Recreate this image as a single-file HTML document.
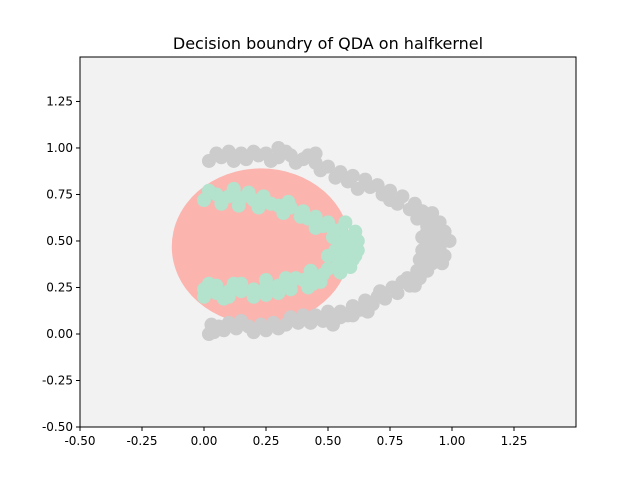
<!DOCTYPE html>
<html><head><meta charset="utf-8"><style>
body{margin:0;background:#fff;font-family:"Liberation Sans","DejaVu Sans",sans-serif}
</style></head><body>
<svg id="c" width="640" height="480" xmlns="http://www.w3.org/2000/svg">
<text x="328" y="49" text-anchor="middle" font-size="16" fill="#000" font-family="DejaVu Sans, sans-serif">Decision boundry of QDA on halfkernel</text>
<rect x="80" y="57" width="496" height="370" fill="#f2f2f2"/>
<g id="marks"></g>
<rect x="80" y="57" width="496" height="370" fill="none" stroke="#000" stroke-width="1"/>
<g id="axes" font-family="DejaVu Sans, sans-serif" font-size="12"></g>
</svg>
<script>
const xTicks=[-0.5,-0.25,0,0.25,0.5,0.75,1.0,1.25];
const yTicks=[-0.5,-0.25,0,0.25,0.5,0.75,1.0,1.25];
const regionEllipse=[0.23,0.47,0.36,0.42]; // cx, cy, rx, ry (data units)
const greyPts=[[0.02,0.93],[0.05,0.97],[0.1,0.98],[0.15,0.97],[0.2,0.98],[0.25,0.97],[0.3,0.95],[0.35,0.96],[0.4,0.94],[0.45,0.92],[0.5,0.9],[0.55,0.87],[0.6,0.85],[0.65,0.83],[0.7,0.8],[0.75,0.77],[0.8,0.74],[0.85,0.7],[0.88,0.66],[0.9,0.62],[0.92,0.58],[0.93,0.54],[0.94,0.5],[0.95,0.46],[0.94,0.42],[0.92,0.38],[0.9,0.34],[0.87,0.3],[0.83,0.26],[0.78,0.22],[0.73,0.19],[0.68,0.16],[0.63,0.13],[0.58,0.1],[0.53,0.08],[0.48,0.07],[0.43,0.06],[0.38,0.06],[0.33,0.05],[0.28,0.06],[0.23,0.05],[0.18,0.04],[0.13,0.03],[0.08,0.02],[0.04,0.01],[0.03,0.05],[0.12,0.93],[0.3,1.0],[0.58,0.82],[0.9,0.55],[0.99,0.5],[0.88,0.45],[0.87,0.4],[0.9,0.48],[0.5,0.12],[0.2,0.01],[0.1,0.06],[0.62,0.78],[0.97,0.42],[0.95,0.6],[0.88,0.52],[0.7,0.2],[0.4,0.1],[0.25,0.02],[0.22,0.96],[0.45,0.97],[0.75,0.72],[0.8,0.28],[0.92,0.65],[0.6,0.1],[0.55,0.12],
[0.07,0.95],[0.17,0.94],[0.27,0.93],[0.37,0.92],[0.47,0.88],[0.53,0.84],[0.67,0.79],[0.72,0.75],[0.78,0.7],[0.83,0.67],[0.86,0.62],[0.9,0.58],[0.92,0.52],[0.91,0.43],[0.89,0.38],[0.86,0.34],[0.82,0.3],[0.76,0.25],[0.71,0.23],[0.65,0.18],[0.6,0.15],[0.55,0.09],[0.45,0.1],[0.35,0.09],[0.3,0.03],[0.15,0.07],[0.06,0.04],[0.02,0.0],[0.33,0.98],[0.42,0.96],[0.97,0.55],[0.96,0.38],[0.85,0.26],[0.66,0.12],[0.52,0.05]];
const greenPts=[[0.0,0.72],[0.05,0.75],[0.1,0.74],[0.15,0.73],[0.2,0.72],[0.25,0.71],[0.3,0.69],[0.35,0.68],[0.4,0.66],[0.45,0.63],[0.5,0.6],[0.55,0.56],[0.58,0.52],[0.6,0.48],[0.58,0.44],[0.55,0.4],[0.5,0.35],[0.45,0.31],[0.4,0.29],[0.35,0.27],[0.3,0.26],[0.25,0.25],[0.2,0.24],[0.15,0.23],[0.1,0.23],[0.05,0.22],[0.0,0.24],[0.0,0.2],[0.02,0.77],[0.12,0.78],[0.22,0.68],[0.32,0.65],[0.42,0.62],[0.52,0.52],[0.62,0.5],[0.62,0.45],[0.53,0.45],[0.5,0.42],[0.55,0.33],[0.42,0.25],[0.3,0.22],[0.15,0.27],[0.05,0.26],[0.08,0.19],[0.48,0.58],[0.27,0.7],[0.37,0.3],[0.2,0.2],[0.57,0.6],[0.6,0.4],[0.47,0.28],[0.18,0.76],
[0.07,0.7],[0.14,0.69],[0.24,0.74],[0.34,0.71],[0.39,0.63],[0.45,0.57],[0.52,0.56],[0.56,0.49],[0.54,0.37],[0.48,0.32],[0.43,0.34],[0.33,0.3],[0.25,0.29],[0.12,0.27],[0.02,0.27],[0.1,0.2],[0.25,0.21],[0.35,0.24],[0.44,0.27],[0.61,0.55],[0.61,0.42],[0.59,0.36]];
const NS="http://www.w3.org/2000/svg";
const X0=80,X1=576,Y0=427,Y1=57,xmin=-0.5,xmax=1.5,ymin=-0.5,ymax=1.489;
const sx=v=>X0+(v-xmin)/(xmax-xmin)*(X1-X0);
const sy=v=>Y0-(v-ymin)/(ymax-ymin)*(Y0-Y1);
const marks=document.getElementById('marks'),axes=document.getElementById('axes');
function mk(t,a,p){const e=document.createElementNS(NS,t);for(const k in a)e.setAttribute(k,a[k]);p.appendChild(e);return e;}
const el=mk('ellipse',{cx:sx(regionEllipse[0]),cy:sy(regionEllipse[1]),rx:sx(regionEllipse[0]+regionEllipse[2])-sx(regionEllipse[0]),ry:sy(regionEllipse[1])-sy(regionEllipse[1]+regionEllipse[3]),fill:'#fbb4ae'},marks);


greyPts.forEach(p=>{const c=mk('circle',{cx:sx(p[0]),cy:sy(p[1]),r:7,fill:'#cccccc'},marks);

});
greenPts.forEach(p=>{const c=mk('circle',{cx:sx(p[0]),cy:sy(p[1]),r:7,fill:'#b3e2cd'},marks);

});
xTicks.forEach(v=>{const x=sx(v);mk('line',{x1:x,x2:x,y1:427,y2:431,stroke:'#000'},axes);
const t=mk('text',{x:x,y:445,'text-anchor':'middle'},axes);t.textContent=v.toFixed(2);

});
yTicks.forEach(v=>{const y=sy(v);mk('line',{x1:76,x2:80,y1:y,y2:y,stroke:'#000'},axes);
const t=mk('text',{x:73,y:y+4,'text-anchor':'end'},axes);t.textContent=v.toFixed(2);

});
</script>
</body></html>
